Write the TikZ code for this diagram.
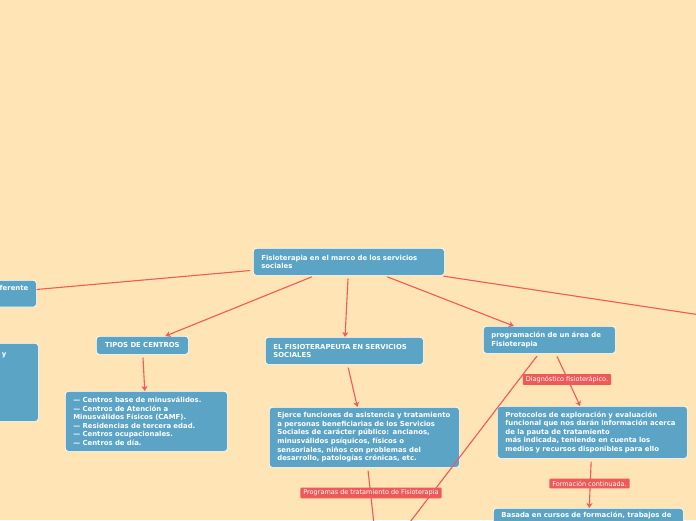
\documentclass[tikz,border=0pt]{standalone}
\usepackage{fontspec}
\setmainfont{DejaVu Sans}
\usepackage{tikz}
\usetikzlibrary{arrows.meta}
\usepackage{xcolor}

\definecolor{paper}{HTML}{FFE4B5}
\definecolor{nodeblue}{HTML}{5BA4C6}
\definecolor{linkred}{HTML}{F05A5A}
\definecolor{tagred}{HTML}{EE5959}

\newcommand{\bubblefont}{\fontsize{6.9}{8.6}\selectfont\bfseries}
\newcommand{\tagfont}{\fontsize{6.5}{7.5}\selectfont}

\begin{document}
\begin{tikzpicture}[
    x=1pt, y=-1pt,
    bubble/.style={draw=white, line width=0.7pt, fill=nodeblue, rounded corners=3pt,
      text=white, font=\bubblefont, align=left, inner xsep=8pt, inner ysep=4pt,
      anchor=north west},
    tag/.style={fill=tagred, text=white, font=\tagfont, inner xsep=3pt, inner ysep=2.2pt,
      rounded corners=1pt},
    link/.style={draw=linkred, line width=1.1pt, shorten <=3pt},
    tip/.style={-{Stealth[length=5pt,width=6pt]}}
]
  \useasboundingbox (0,0) rectangle (696,520);
  \fill[paper] (0,0) rectangle (696,520);

  % --- ROOT ---
  \node[bubble, text width=175pt, minimum height=27pt] (root) at (253,248)
    {Fisioterapia en el marco de los servicios\\sociales};

  % --- LEFT (cut off) ---
  \node[bubble, text width=80pt, inner ysep=5pt, text depth=11.5pt, align=right] (diff) at (-60,280) {ferente};
  \node[bubble, text width=122pt, align=right, text depth=61pt] (leftbox) at (-100,343)
    {\rule{0pt}{9pt}y\hspace*{24pt}};

  % --- TIPOS DE CENTROS ---
  \node[bubble, text width=76pt, minimum height=18pt, align=center] (tipos) at (96,336) {TIPOS DE CENTROS};
  \node[bubble, text width=146pt, minimum height=60pt] (centros) at (65,391)
    {— Centros base de minusválidos.\\
     — Centros de Atención a\\
     Minusválidos Físicos (CAMF).\\
     — Residencias de tercera edad.\\
     — Centros ocupacionales.\\
     — Centros de día.};

  % --- EL FISIOTERAPEUTA ---
  \node[bubble, text width=142pt, minimum height=27pt] (fisio) at (265,337)
    {EL FISIOTERAPEUTA EN SERVICIOS\\SOCIALES};
  \node[bubble, text width=174pt, minimum height=60pt] (ejerce) at (269,407)
    {Ejerce funciones de asistencia y tratamiento\\
     a personas beneficiarias de los Servicios\\
     Sociales de carácter público: ancianos,\\
     minusválidos psíquicos, físicos o\\
     sensoriales, niños con problemas del\\
     desarrollo, patologías crónicas, etc.};

  % --- PROGRAMACION ---
  \node[bubble, text width=116pt, minimum height=27pt] (prog) at (483,326)
    {programación de un área de\\Fisioterapia};
  \node[bubble, text width=174pt, minimum height=52pt] (protocolos) at (497,406)
    {Protocolos de exploración y evaluación\\
     funcional que nos darán información acerca\\
     de la pauta de tratamiento\\
     más indicada, teniendo en cuenta los\\
     medios y recursos disponibles para ello};
  \node[bubble, text width=174pt, text depth=30pt] (basada) at (493,508)
    {Basada en cursos de formación, trabajos de};

  % --- OFF-PAGE ENDS ---
  \coordinate (farright) at (760,324);
  \coordinate (offprog) at (381,560);
  \coordinate (offejerce) at (378,560);

  % --- DRAWING EDGES ---
  \draw[link] (root) -- (diff);
  \draw[link] (root) -- (farright);
  \draw[link, tip] (root) -- (tipos);
  \draw[link, tip] (root) -- (fisio);
  \draw[link, tip] (root) -- (prog);

  \draw[link, tip] (tipos) -- (centros);
  \draw[link, tip] (fisio) -- (ejerce);
  \draw[link, tip] (prog) -- (protocolos);
  \draw[link] (prog) -- (offprog);
  \draw[link] (ejerce) -- (offejerce);
  \draw[link, tip] (protocolos) -- (basada);

  % --- EDGE TAGS ---
  \node[tag] (diag) at (567,379.5) {Diagnóstico fisioterápico.};
  \node[tag] (formac) at (589.5,483.5) {Formación continuada.};
  \node[tag] (programas) at (371,493) {Programas de tratamiento de Fisioterapia};
\end{tikzpicture}
\end{document}
